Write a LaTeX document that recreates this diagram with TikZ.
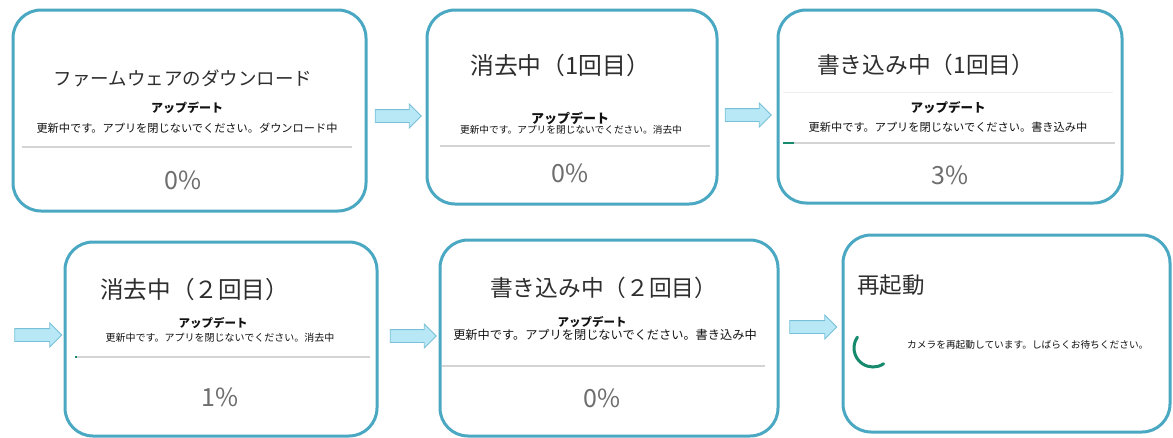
\documentclass[tikz,border=0pt]{standalone}
\usepackage{fontspec}
\setmainfont{Noto Sans CJK JP}
\usetikzlibrary{shapes.arrows}
\definecolor{scrframe}{HTML}{4AA8C2}
\definecolor{scrtitle}{HTML}{2E2E2E}
\definecolor{scrtext}{HTML}{111111}
\definecolor{scrpct}{HTML}{6E6E6E}
\definecolor{scrbar}{HTML}{D4D4D4}
\definecolor{scrfaint}{HTML}{EEEEEE}
\definecolor{scrgreen}{HTML}{168A6C}
\definecolor{flowfill}{HTML}{B8E8F6}
\definecolor{flowline}{HTML}{78C0D8}

\begin{document}
\begin{tikzpicture}[
        x=1pt, y=-1pt,
        screen/.style 2 args={
          draw=scrframe, line width=3pt,
          fill=white, rounded corners=28pt,
          minimum width=#1pt, minimum height=#2pt,
        },
        title/.style={
          font=\fontsize{#1}{#1}\selectfont, text=scrtitle, inner sep=0pt,
        },
        head/.style={
          font=\fontsize{#1}{#1}\selectfont\bfseries, text=scrtext, inner sep=0pt,
        },
        msg/.style={
          font=\fontsize{#1}{#1}\selectfont, text=scrtext, inner sep=0pt,
        },
        pct/.style={
          font=\fontsize{25}{25}\selectfont, text=scrpct, inner sep=0pt,
        },
        bar/.style={draw=scrbar, line width=2pt},
        done/.style={draw=scrgreen, line width=2.5pt},
        flow/.style={
          single arrow, draw=flowline, fill=flowfill, line width=0.8pt,
          minimum height=#1pt, single arrow head extend=5.5pt,
          single arrow head indent=0pt, inner xsep=0pt, inner ysep=6pt,
        },
      ]
      \useasboundingbox (0,0) rectangle (1173,437);

      % top row
      \node[screen={353}{201}] (dl) at (189.5,110.5) {};
      \node[screen={290}{194}] (erase1) at (572,107) {};
      \node[screen={344}{193}] (write1) at (950,106.5) {};

      % bottom row
      \node[screen={312}{194}] (erase2) at (221,339) {};
      \node[screen={338}{196}] (write2) at (609,338) {};
      \node[screen={327}{197}] (reboot) at (1006.5,333.5) {};

      % arrows
      \node[flow=46] (a1) at (395,116) {};
      \node[flow=46] (a2) at (745,115) {};
      \node[flow=47] (a3) at (35,335) {};
      \node[flow=46] (a4) at (410,336) {};
      \node[flow=47] (a5) at (810,327) {};

      % download
      \node[title=18.5] (dlt) at (183,78) {ファームウェアのダウンロード};
      \node[head=12] (dlh) at (187,108) {アップデート};
      \node[msg=11.2] (dlm) at (187,128) {更新中です。アプリを閉じないでください。ダウンロード中};
      \draw[bar] (22,147) -- (352,147);
      \node[pct] (dlp) at (183,180) {0\%};

      % erase 1
      \node[title=23.8, anchor=west] (e1t) at (470,65) {消去中（1回目）};
      \node[head=13] (e1h) at (570,118) {アップデート};
      \node[msg=9.7] (e1m) at (571,130) {更新中です。アプリを閉じないでください。消去中};
      \draw[bar] (440,146) -- (710,146);
      \node[pct] (e1p) at (570,173) {0\%};

      % write 1
      \node[title=22.7, anchor=west] (w1t) at (817,65) {書き込み中（1回目）};
      \draw[scrfaint, line width=1pt] (783,92) -- (1113,92);
      \node[head=12.5] (w1h) at (948,108) {アップデート};
      \node[msg=11.2] (w1m) at (948,127) {更新中です。アプリを閉じないでください。書き込み中};
      \draw[bar] (783,143) -- (1115,143);
      \draw[done] (783,143) -- (794,143);
      \node[pct] (w1p) at (950,175) {3\%};

      % erase 2
      \node[title=23.6, anchor=west] (e2t) at (100,290) {消去中（２回目）};
      \node[head=11.5] (e2h) at (213,323) {アップデート};
      \node[msg=10] (e2m) at (220,338) {更新中です。アプリを閉じないでください。消去中};
      \draw[bar] (75,357) -- (370,357);
      \draw[done] (75,357) -- (77,357);
      \node[pct] (e2p) at (220,397) {1\%};

      % write 2
      \node[title=22.7, anchor=west] (w2t) at (490,288) {書き込み中（２回目）};
      \node[head=11.5] (w2h) at (592,322) {アップデート};
      \node[msg=12.2] (w2m) at (605,335) {更新中です。アプリを閉じないでください。書き込み中};
      \draw[bar] (442,366) -- (765,366);
      \node[pct] (w2p) at (602,398) {0\%};

      % reboot
      \node[title=22.5, anchor=west] (rbt) at (857,285) {再起動};
      \draw[scrgreen, line width=3pt, line cap=round] (873,348) ++(215:19) arc (215:56:19);
      \node[msg=9.7, anchor=west] (rbm) at (907,345) {カメラを再起動しています。しばらくお待ちください。};
    \end{tikzpicture}
\end{document}
